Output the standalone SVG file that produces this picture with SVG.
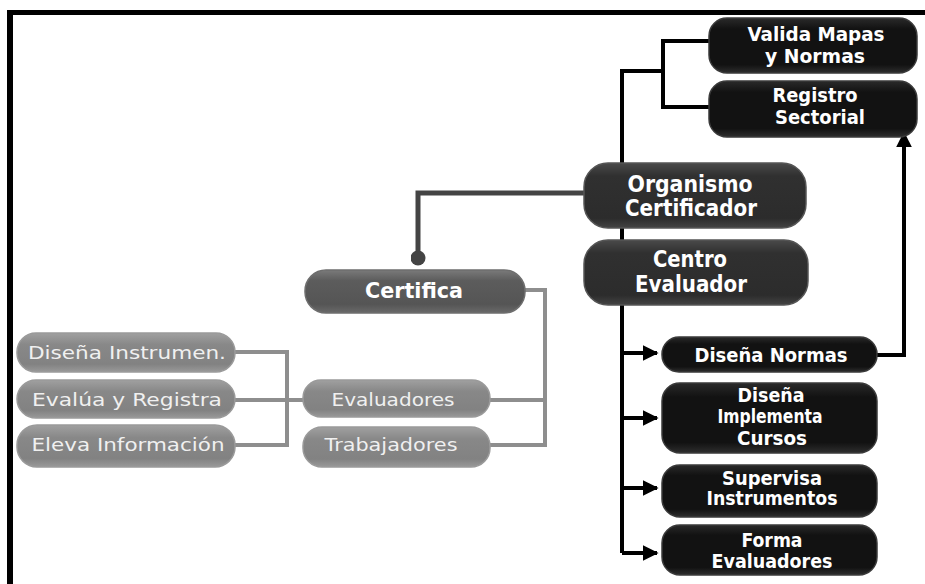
<svg xmlns="http://www.w3.org/2000/svg" width="925" height="584" viewBox="0 0 925 584">
<defs>
<linearGradient id="gBlack" x1="0" y1="0" x2="0" y2="1">
<stop offset="0" stop-color="#2a2a2a"/><stop offset="0.2" stop-color="#121212"/><stop offset="0.85" stop-color="#121212"/><stop offset="1" stop-color="#2e2e2e"/>
</linearGradient>
<linearGradient id="gDark" x1="0" y1="0" x2="0" y2="1">
<stop offset="0" stop-color="#4a4a4a"/><stop offset="0.2" stop-color="#303030"/><stop offset="0.85" stop-color="#2c2c2c"/><stop offset="1" stop-color="#444"/>
</linearGradient>
<linearGradient id="gMid" x1="0" y1="0" x2="0" y2="1">
<stop offset="0" stop-color="#7a7a7a"/><stop offset="0.25" stop-color="#5c5c5c"/><stop offset="0.8" stop-color="#555"/><stop offset="1" stop-color="#6a6a6a"/>
</linearGradient>
<linearGradient id="gLight" x1="0" y1="0" x2="0" y2="1">
<stop offset="0" stop-color="#a0a0a0"/><stop offset="0.3" stop-color="#888"/><stop offset="0.8" stop-color="#828282"/><stop offset="1" stop-color="#999"/>
</linearGradient>
<marker id="arr" viewBox="0 0 10 10" refX="9" refY="5" markerWidth="4" markerHeight="4" orient="auto" markerUnits="strokeWidth">
<path d="M0,0 L10,5 L0,10 z" fill="#000"/>
</marker>
<marker id="dot" viewBox="0 0 10 10" refX="5" refY="5" markerWidth="3" markerHeight="3" markerUnits="strokeWidth">
<circle cx="5" cy="5" r="5" fill="#444"/>
</marker>
</defs>
<style>
.blk{fill:url(#gBlack);stroke:#3a3a3a;stroke-width:1.5}
.drk{fill:url(#gDark);stroke:#555;stroke-width:1.5}
.mid{fill:url(#gMid);stroke:#6e6e6e;stroke-width:1.5}
.lgt{fill:url(#gLight);stroke:#9a9a9a;stroke-width:1.5}
.tb{font-family:"DejaVu Sans Condensed","DejaVu Sans","Liberation Sans",sans-serif;font-weight:bold;fill:#fff;text-anchor:middle;font-stretch:condensed}
.tl{font-family:"DejaVu Sans","Liberation Sans",sans-serif;fill:#f0f0f0;text-anchor:middle;font-size:18px}
.cb{fill:none;stroke:#000;stroke-width:4}
.cd{fill:none;stroke:#444;stroke-width:5}
.cg{fill:none;stroke:#8e8e8e;stroke-width:4}
</style>
<rect x="0" y="0" width="925" height="584" fill="#fff"/>
<g id="frame">
<rect x="7" y="10" width="918" height="5" fill="#000"/>
<rect x="7" y="10" width="6" height="574" fill="#000"/>
</g>
<g id="connectors">
<polyline class="cb" points="622,165 622,71 663,71"/>
<polyline class="cb" points="710,41 663,41 663,107 710,107"/>
<polyline class="cd" points="585,193 418,193 418,258" marker-end="url(#dot)"/>
<line class="cb" x1="622" y1="228" x2="622" y2="240"/>
<polyline class="cb" points="622,305 622,553"/>
<line class="cb" x1="622" y1="353" x2="657" y2="353" marker-end="url(#arr)"/>
<line class="cb" x1="622" y1="418" x2="657" y2="418" marker-end="url(#arr)"/>
<line class="cb" x1="622" y1="488" x2="657" y2="488" marker-end="url(#arr)"/>
<line class="cb" x1="622" y1="553" x2="657" y2="553" marker-end="url(#arr)"/>
<polyline class="cb" points="877,355 904,355 904,133" marker-end="url(#arr)"/>
<polyline class="cg" points="525,290 545,290 545,445 490,445"/>
<line class="cg" x1="490" y1="400" x2="545" y2="400"/>
<polyline class="cg" points="235,352 287,352 287,445 235,445"/>
<line class="cg" x1="235" y1="400" x2="303" y2="400"/>
</g>
<g id="valida">
<rect class="blk" x="709" y="18" width="208" height="55" rx="18"/>
<text class="tb" x="816" y="41" font-size="19" textLength="137" lengthAdjust="spacingAndGlyphs">Valida Mapas</text>
<text class="tb" x="815" y="63" font-size="19" textLength="100" lengthAdjust="spacingAndGlyphs">y Normas</text>
</g>
<g id="registro">
<rect class="blk" x="709" y="81" width="208" height="56" rx="18"/>
<text class="tb" x="815" y="102" font-size="19" textLength="85" lengthAdjust="spacingAndGlyphs">Registro</text>
<text class="tb" x="820" y="124" font-size="19" textLength="90" lengthAdjust="spacingAndGlyphs">Sectorial</text>
</g>
<g id="organismo">
<rect class="drk" x="584" y="163" width="222" height="65" rx="24"/>
<text class="tb" x="690" y="192" font-size="23" textLength="125" lengthAdjust="spacingAndGlyphs">Organismo</text>
<text class="tb" x="691" y="216" font-size="23" textLength="132" lengthAdjust="spacingAndGlyphs">Certificador</text>
</g>
<g id="centro">
<rect class="drk" x="584" y="240" width="224" height="65" rx="24"/>
<text class="tb" x="690" y="267" font-size="23" textLength="74" lengthAdjust="spacingAndGlyphs">Centro</text>
<text class="tb" x="691" y="292" font-size="23" textLength="112" lengthAdjust="spacingAndGlyphs">Evaluador</text>
</g>
<g id="certifica">
<rect class="mid" x="305" y="270" width="220" height="43" rx="21"/>
<text class="tb" x="414" y="298" font-size="22" textLength="98" lengthAdjust="spacingAndGlyphs">Certifica</text>
</g>
<g id="disena-normas">
<rect class="blk" x="662" y="337" width="215" height="35" rx="17"/>
<text class="tb" x="771" y="362" font-size="19" textLength="153" lengthAdjust="spacingAndGlyphs">Diseña Normas</text>
</g>
<g id="disena-implementa">
<rect class="blk" x="662" y="383" width="215" height="70" rx="18"/>
<text class="tb" x="771" y="402" font-size="19" textLength="67" lengthAdjust="spacingAndGlyphs">Diseña</text>
<text class="tb" x="770" y="423" font-size="19" textLength="105" lengthAdjust="spacingAndGlyphs">Implementa</text>
<text class="tb" x="772" y="445" font-size="19" textLength="70" lengthAdjust="spacingAndGlyphs">Cursos</text>
</g>
<g id="supervisa">
<rect class="blk" x="662" y="465" width="215" height="52" rx="18"/>
<text class="tb" x="772" y="485" font-size="19" textLength="100" lengthAdjust="spacingAndGlyphs">Supervisa</text>
<text class="tb" x="772" y="505" font-size="19" textLength="131" lengthAdjust="spacingAndGlyphs">Instrumentos</text>
</g>
<g id="forma">
<rect class="blk" x="662" y="525" width="215" height="50" rx="18"/>
<text class="tb" x="772" y="547" font-size="19" textLength="61" lengthAdjust="spacingAndGlyphs">Forma</text>
<text class="tb" x="772" y="568" font-size="19" textLength="121" lengthAdjust="spacingAndGlyphs">Evaluadores</text>
</g>
<g id="evaluadores">
<rect class="lgt" x="303" y="380" width="187" height="37" rx="18"/>
<text class="tl" x="393" y="406" textLength="123" lengthAdjust="spacingAndGlyphs">Evaluadores</text>
</g>
<g id="trabajadores">
<rect class="lgt" x="303" y="427" width="187" height="40" rx="19"/>
<text class="tl" x="391" y="451" textLength="133" lengthAdjust="spacingAndGlyphs">Trabajadores</text>
</g>
<g id="disena-instrumen">
<rect class="lgt" x="17" y="333" width="218" height="39" rx="19"/>
<text class="tl" x="127" y="359" textLength="198" lengthAdjust="spacingAndGlyphs">Diseña Instrumen.</text>
</g>
<g id="evalua">
<rect class="lgt" x="17" y="380" width="218" height="38" rx="19"/>
<text class="tl" x="127" y="406" textLength="190" lengthAdjust="spacingAndGlyphs">Evalúa y Registra</text>
</g>
<g id="eleva">
<rect class="lgt" x="17" y="425" width="218" height="42" rx="20"/>
<text class="tl" x="128" y="451" textLength="193" lengthAdjust="spacingAndGlyphs">Eleva Información</text>
</g>
</svg>
